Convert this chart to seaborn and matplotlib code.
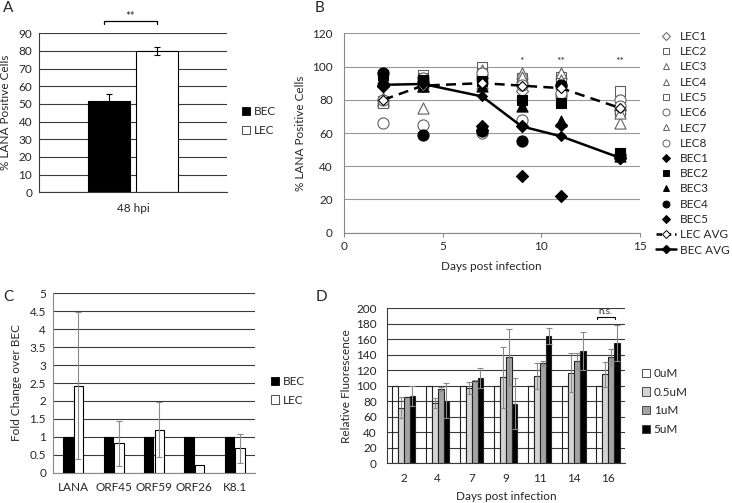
import numpy as np
import pandas as pd
import matplotlib
matplotlib.use("Agg")
import matplotlib.pyplot as plt
import seaborn as sns
from matplotlib.patches import Patch
from matplotlib.lines import Line2D

sns.set_theme(style="white")
plt.rcParams['font.family'] = ['Lato', 'DejaVu Sans']

# ---------------- data ----------------
# Panel A
a_category = ['48 hpi']
a_groups = ['BEC', 'LEC']
a_values = [51.5, 80.0]
a_errors = [4.0, 2.5]

# Panel B
b_days = [2, 4, 7, 9, 11, 14]
lec1 = [89, 91, 93, 85, 88, 74]
lec2 = [79, 95, 100, 93, 94, 85]
lec3 = [80, 75, 98, 96, 96, 75]
lec4 = [79, 88, 90, 92, 90, 66]
lec5 = [78, 93, 96, 90, 90, 73]
lec6 = [66, 65, 60, 68, 82, 80]
lec7 = [81, 90, 95, 94, 92, 72]
lec8 = [80, 93, 96, 89, 84, 76]
bec1 = [88, 88, 64, 34, 22, 45]
bec2 = [95, 92, 91, 80, 78, 48]
bec3 = [93, 88, 88, 76, 67, 46]
bec4 = [96, 59, 61, 55, 89, 47]
bec5 = [88, 90, 62, 64, 65, 45]
lec_avg = [80, 88.5, 90, 88.5, 87, 75]
bec_avg = [89, 89.5, 82, 64, 58, 45]
b_sig_days = [9, 11, 14]
b_sig_text = ['*', '**', '**']

# Panel C
c_genes = ['LANA', 'ORF45', 'ORF59', 'ORF26', 'K8.1']
c_bec = [1, 1, 1, 1, 1]
c_lec = [2.42, 0.82, 1.2, 0.21, 0.68]
c_lec_err = [2.05, 0.62, 0.76, 0.0, 0.41]

# Panel D
d_days = ['2', '4', '7', '9', '11', '14', '16']
d_conc = ['0uM', '0.5uM', '1uM', '5uM']
d_0 = [100, 100, 100, 100, 100, 100, 100]
d_05 = [72, 78, 97, 111, 113, 117, 115]
d_05_err = [13, 6, 8, 39, 17, 25, 16]
d_1 = [86, 95.5, 106, 137, 129, 132, 137]
d_1_err = [0, 2.5, 1, 36, 3, 10, 10]
d_5 = [87, 81, 110, 77, 164, 145, 155]
d_5_err = [13, 22, 13, 33, 10, 25, 23]

# ---------------- layout ----------------
W, H = 732, 503
fig = plt.figure(figsize=(W / 100, H / 100), dpi=100)
fig.patch.set_facecolor('white')


def rect(l, t, r, b):
    return [l / W, 1 - b / H, (r - l) / W, (b - t) / H]


def fx(px):
    return px / W


def fy(py):
    return 1 - py / H


FS = 8.5
GRID = '#3a3a3a'

# ---------------- Panel A ----------------
axA = fig.add_axes(rect(39, 33.3, 227, 192.3))
dfA = pd.DataFrame({'cat': a_category * 2, 'grp': a_groups, 'val': a_values})
sns.barplot(data=dfA, x='cat', y='val', hue='grp', hue_order=a_groups,
            palette=['black', 'white'], width=0.506, gap=0.12,
            edgecolor='black', linewidth=0.8, errorbar=None, legend=False, ax=axA)
for cont, err in zip(axA.containers, a_errors):
    for bar in cont:
        xc = bar.get_x() + bar.get_width() / 2
        axA.errorbar([xc], [bar.get_height()], yerr=[err], fmt='none',
                     ecolor='black', elinewidth=0.8, capsize=2.5, capthick=0.8, zorder=5)
axA.set_ylim(0, 90)
axA.set_xlim(-0.5, 0.5)
axA.set_yticks(range(0, 91, 10))
axA.yaxis.grid(True, color=GRID, lw=0.8)
axA.set_axisbelow(True)
axA.set_xlabel('')
axA.set_ylabel('')
for s in ['top', 'right']:
    axA.spines[s].set_visible(False)
for s in ['left', 'bottom']:
    axA.spines[s].set_color(GRID)
    axA.spines[s].set_linewidth(0.8)
axA.tick_params(axis='y', length=0, pad=5, labelsize=FS)
axA.tick_params(axis='x', length=0, pad=8, labelsize=FS)
# significance bracket
xa0 = axA.containers[0][0].get_x() + axA.containers[0][0].get_width() / 2 - 0.03
xa1 = axA.containers[1][0].get_x() + axA.containers[1][0].get_width() / 2
axA.plot([xa0, xa0, xa1, xa1], [95.5, 97, 97, 95.5], color='black', lw=0.9, clip_on=False)
axA.text((xa0 + xa1) / 2, 99.5, '**', ha='center', va='center', fontsize=8, clip_on=False)
fig.text(fx(6), fy(112), '% LANA Positive Cells', rotation=90, ha='center', va='center', fontsize=FS)
fig.text(fx(8), fy(8), 'A', ha='center', va='center', fontsize=11)
fig.legend(handles=[Patch(facecolor='black', edgecolor='black', lw=0.6),
                    Patch(facecolor='white', edgecolor='#333333', lw=0.6)],
           labels=a_groups, loc='upper left', bbox_to_anchor=(fx(242), fy(106)),
           frameon=False, fontsize=FS, handlelength=0.7, handleheight=0.7,
           handletextpad=0.3, labelspacing=0.7, borderpad=0, borderaxespad=0)

# ---------------- Panel B ----------------
axB = fig.add_axes(rect(344, 33.3, 640, 232.7))
series = [
    ('LEC1', lec1, 'D', 'white', 38), ('LEC2', lec2, 's', 'white', 58),
    ('LEC3', lec3, '^', 'white', 64), ('LEC4', lec4, '^', 'white', 64),
    ('LEC5', lec5, 's', 'white', 58), ('LEC6', lec6, 'o', 'white', 64),
    ('LEC7', lec7, '^', 'white', 64), ('LEC8', lec8, 'o', 'white', 64),
    ('BEC1', bec1, 'D', 'black', 38), ('BEC2', bec2, 's', 'black', 58),
    ('BEC3', bec3, '^', 'black', 64), ('BEC4', bec4, 'o', 'black', 64),
    ('BEC5', bec5, 'D', 'black', 38),
]
handlesB = []
for name, vals, mk, fc, sz in series:
    ec = '#606060' if fc == 'white' else 'black'
    dfs = pd.DataFrame({'day': b_days, 'val': vals})
    sns.scatterplot(data=dfs, x='day', y='val', marker=mk, s=sz, color=fc,
                    edgecolor=ec, linewidth=0.8, ax=axB, zorder=3, legend=False)
    handlesB.append(Line2D([], [], ls='none', marker=mk, markersize=5 if mk != 'D' else 4,
                           markerfacecolor=fc, markeredgecolor=ec, markeredgewidth=0.7))
dfl = pd.DataFrame({'day': b_days, 'val': lec_avg})
sns.lineplot(data=dfl, x='day', y='val', color='black', lw=1.8, ax=axB, zorder=4,
             marker='D', markersize=5, markerfacecolor='white', markeredgecolor='black',
             markeredgewidth=0.8, dashes=False, linestyle=(0, (4, 2.5)))
dfb = pd.DataFrame({'day': b_days, 'val': bec_avg})
sns.lineplot(data=dfb, x='day', y='val', color='black', lw=1.8, ax=axB, zorder=4,
             marker='D', markersize=5, markerfacecolor='black', markeredgecolor='black')
handlesB.append(Line2D([], [], color='black', lw=1.8, ls=(0, (2.2, 1.5)), marker='D', markersize=4,
                       markerfacecolor='white', markeredgecolor='black', markeredgewidth=0.7))
handlesB.append(Line2D([], [], color='black', lw=1.8, marker='D', markersize=4,
                       markerfacecolor='black', markeredgecolor='black'))
labelsB = [s[0] for s in series] + ['LEC AVG', 'BEC AVG']
for d, t in zip(b_sig_days, b_sig_text):
    axB.text(d, 103, t, ha='center', va='center', fontsize=7.5, color='#333333')
axB.set_xlim(0, 15)
axB.set_ylim(0, 120)
axB.set_xticks([0, 5, 10, 15])
axB.set_yticks(range(0, 121, 20))
axB.yaxis.grid(True, color='#999999', lw=0.8)
axB.set_axisbelow(True)
axB.set_xlabel('')
axB.set_ylabel('')
for s in ['top', 'right']:
    axB.spines[s].set_visible(False)
for s in ['left', 'bottom']:
    axB.spines[s].set_color('#888888')
    axB.spines[s].set_linewidth(0.8)
axB.tick_params(axis='x', length=3, width=0.8, color='#888888', pad=3, labelsize=FS, bottom=True)
axB.tick_params(axis='y', length=0, pad=8, labelsize=FS)
fig.text(fx(301), fy(133), '% LANA Positive Cells', rotation=90, ha='center', va='center', fontsize=FS)
fig.text(fx(491), fy(267), 'Days post infection', ha='center', va='center', fontsize=FS)
fig.text(fx(320), fy(8), 'B', ha='center', va='center', fontsize=11)
fig.legend(handles=handlesB, labels=labelsB, loc='upper left', bbox_to_anchor=(fx(656), fy(31)),
           frameon=False, fontsize=FS, handlelength=1.7, handletextpad=0.35,
           labelspacing=0.36, borderpad=0, borderaxespad=0)

# ---------------- Panel C ----------------
axC = fig.add_axes(rect(53, 293.3, 255, 472.7))
dfC = pd.DataFrame({'gene': c_genes * 2, 'grp': ['BEC'] * 5 + ['LEC'] * 5, 'val': c_bec + c_lec})
sns.barplot(data=dfC, x='gene', y='val', hue='grp', hue_order=['BEC', 'LEC'], order=c_genes,
            palette=['black', 'white'], width=0.52, gap=0.1,
            edgecolor='black', linewidth=0.8, errorbar=None, legend=False, ax=axC)
for bar, err in zip(axC.containers[1], c_lec_err):
    if err > 0:
        xc = bar.get_x() + bar.get_width() / 2
        axC.errorbar([xc], [bar.get_height()], yerr=[err], fmt='none',
                     ecolor='#8a8a8a', elinewidth=0.8, capsize=2.5, capthick=0.8, zorder=5)
axC.set_ylim(0, 5)
axC.set_xlim(-0.5, 4.5)
axC.set_yticks(np.arange(0, 5.01, 0.5))
axC.set_yticklabels(['0', '0.5', '1', '1.5', '2', '2.5', '3', '3.5', '4', '4.5', '5'])
axC.yaxis.grid(True, color=GRID, lw=0.8)
axC.set_axisbelow(True)
axC.set_xlabel('')
axC.set_ylabel('')
for s in ['top', 'right']:
    axC.spines[s].set_visible(False)
for s in ['left', 'bottom']:
    axC.spines[s].set_color('#888888')
    axC.spines[s].set_linewidth(0.8)
axC.tick_params(axis='y', length=0, pad=5, labelsize=FS)
axC.tick_params(axis='x', length=0, pad=7, labelsize=FS)
fig.text(fx(17), fy(383), 'Fold Change over BEC', rotation=90, ha='center', va='center', fontsize=FS)
fig.text(fx(8), fy(297), 'C', ha='center', va='center', fontsize=11)
fig.legend(handles=[Patch(facecolor='black', edgecolor='black', lw=0.6),
                    Patch(facecolor='white', edgecolor='#333333', lw=0.6)],
           labels=['BEC', 'LEC'], loc='upper left', bbox_to_anchor=(fx(271), fy(376)),
           frameon=False, fontsize=FS, handlelength=0.7, handleheight=0.7,
           handletextpad=0.3, labelspacing=0.65, borderpad=0, borderaxespad=0)

# ---------------- Panel D ----------------
axD = fig.add_axes(rect(386.7, 308.3, 625, 463.3))
dfD = pd.DataFrame({'day': d_days * 4,
                    'conc': sum([[c] * 7 for c in d_conc], []),
                    'val': d_0 + d_05 + d_1 + d_5})
d_cols = ['white', '#d4d4d4', '#a3a3a3', 'black']
sns.barplot(data=dfD, x='day', y='val', hue='conc', hue_order=d_conc, order=d_days,
            palette=d_cols, width=0.68, gap=0.0,
            edgecolor='#222222', linewidth=0.8, errorbar=None, legend=False, ax=axD)
for bar in axD.containers[0]:
    bar.set_facecolor('none')
for cont, errs in zip(axD.containers[1:], [d_05_err, d_1_err, d_5_err]):
    for bar, err in zip(cont, errs):
        if err > 0:
            xc = bar.get_x() + bar.get_width() / 2
            axD.errorbar([xc], [bar.get_height()], yerr=[err], fmt='none',
                         ecolor='#8a8a8a', elinewidth=0.8, capsize=2, capthick=0.8, zorder=5)
axD.set_ylim(0, 200)
axD.set_xlim(-0.5, 6.5)
axD.set_yticks(range(0, 201, 20))
axD.yaxis.grid(True, color=GRID, lw=0.8)
axD.set_axisbelow(True)
axD.set_xlabel('')
axD.set_ylabel('')
for s in ['top', 'right']:
    axD.spines[s].set_visible(False)
for s in ['left', 'bottom']:
    axD.spines[s].set_color(GRID)
    axD.spines[s].set_linewidth(0.8)
axD.tick_params(axis='y', length=0, pad=7, labelsize=FS)
axD.tick_params(axis='x', length=0, pad=7, labelsize=FS)
# n.s. bracket over day 16
axD.plot([5.68, 5.68, 6.2, 6.2], [186, 189, 189, 186], color='black', lw=0.8, clip_on=False)
axD.text(5.94, 196, 'n.s.', ha='center', va='center', fontsize=7)
fig.text(fx(346.5), fy(386), 'Relative Fluorescence', rotation=90, ha='center', va='center', fontsize=FS)
fig.text(fx(506), fy(496), 'Days post infection', ha='center', va='center', fontsize=FS)
fig.text(fx(321), fy(297), 'D', ha='center', va='center', fontsize=11)
fig.legend(handles=[Patch(facecolor=c, edgecolor='#333333', lw=0.6) for c in d_cols],
           labels=d_conc, loc='upper left', bbox_to_anchor=(fx(642), fy(368)),
           frameon=False, fontsize=FS, handlelength=0.7, handleheight=0.7,
           handletextpad=0.3, labelspacing=0.65, borderpad=0, borderaxespad=0)

fig.savefig('out.png', dpi=100, facecolor='white')
